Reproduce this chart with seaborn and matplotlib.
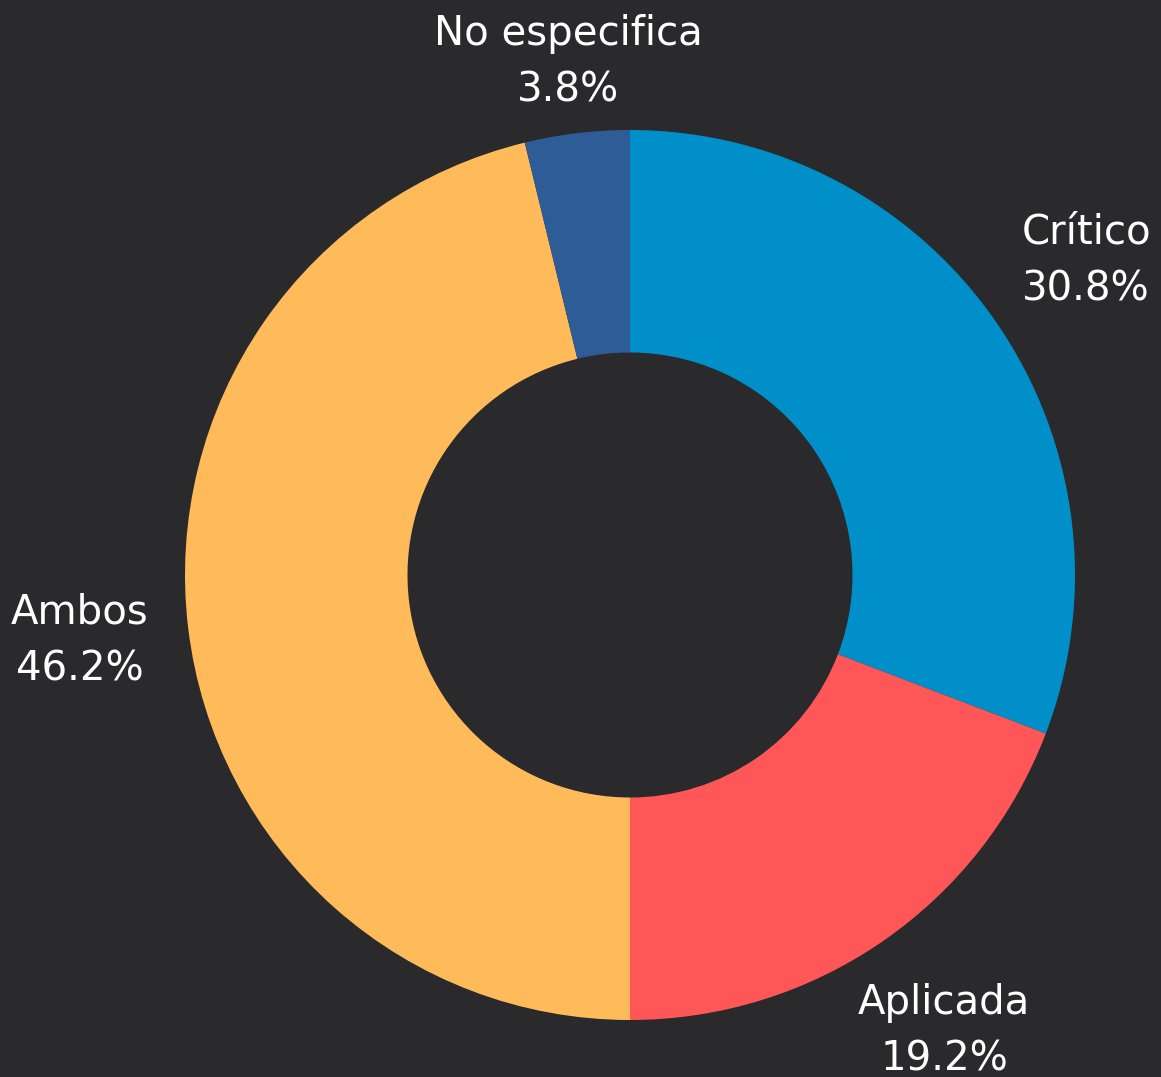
import numpy as np
import matplotlib.pyplot as plt
import seaborn as sns

# datos del gráfico
categorias = ['Crítico', 'Aplicada', 'Ambos', 'No especifica']
porcentajes = [30.8, 19.2, 46.2, 3.8]
colores = ['#008fc8', '#ff5757', '#ffbb5a', '#2e5c96']

fondo = '#2a292c'

sns.set_theme(style='dark')
plt.rcParams['font.family'] = ['DejaVu Sans']

fig = plt.figure(figsize=(11.61, 10.77), dpi=100, facecolor=fondo)
ax = fig.add_axes([0, 0, 1, 1])
ax.set_facecolor(fondo)

wedges, _ = ax.pie(porcentajes, colors=colores, startangle=90, counterclock=False,
                   radius=1.0, wedgeprops=dict(width=0.5, edgecolor='none'))

# etiquetas fuera del anillo
for w, cat, p in zip(wedges, categorias, porcentajes):
    ang = np.deg2rad((w.theta1 + w.theta2) / 2)
    r = 1.245 if p > 10 else 1.16
    x, y = r * np.cos(ang), r * np.sin(ang)
    ax.text(x, y, f'{cat}\n{p}%', ha='center', va='center', color='white',
            fontsize=29, linespacing=1.55)

ax.set_xlim(-630 / 445, (1161 - 630) / 445)
ax.set_ylim(-502 / 445, 575 / 445)
ax.set_aspect('auto')
ax.axis('off')

plt.savefig('out.png', dpi=100, facecolor=fondo)
